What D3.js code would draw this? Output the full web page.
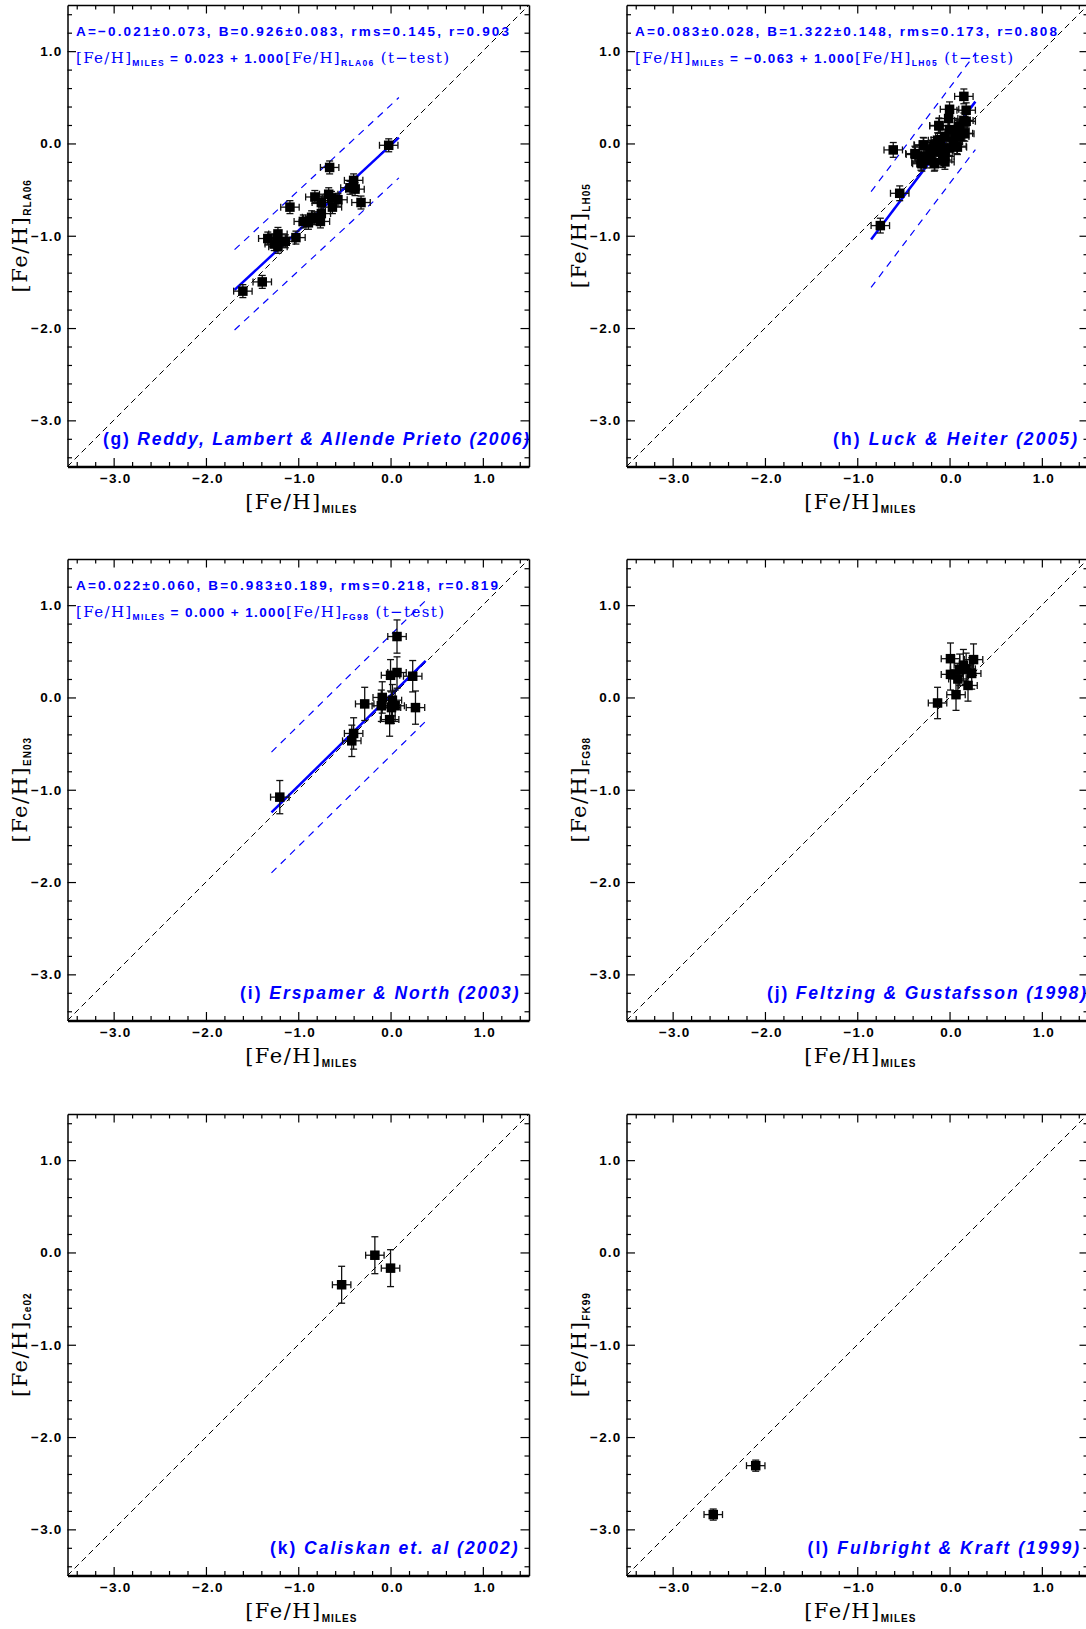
<!DOCTYPE html>
<html>
<head>
<meta charset="utf-8">
<script src="https://cdn.jsdelivr.net/npm/d3@7/dist/d3.min.js"></script>
<style>
  body { margin: 0; background: #fff; }
  svg { display: block; }
  .tick text { font-family: "Liberation Sans", Arial, sans-serif; font-weight: bold; font-size: 13.5px; letter-spacing: 1.2px; fill: #000; }
  .serif { font-family: "DejaVu Serif", serif; }
  .sans { font-family: "Liberation Sans", Arial, sans-serif; font-weight: bold; }
  .sub { font-family: "Liberation Sans", Arial, sans-serif; font-weight: bold; }
  .blue { fill: #0000ff; }
</style>
</head>
<body>
<svg id="chart" width="1086" height="1629"></svg>
<script>
// ---- data ----
const xTicks = [-3, -2, -1, 0, 1];
const yTicks = [-3, -2, -1, 0, 1];
const axisDomain = [-3.5, 1.5];

// (g) Reddy, Lambert & Allende Prieto (2006)
const gX = [-0.02, -0.66, -1.09, -0.32, -0.40, -0.44, -0.385, -0.82, -0.67, -0.64, -0.57, -0.75, -0.63, -0.75,
  -0.855, -0.945, -0.89, -0.76, -0.82, -1.025, -1.22, -1.33, -1.26, -1.22, -1.14, -1.23, -1.39, -1.60];
const gY = [-0.02, -0.26, -0.69, -0.64, -0.40, -0.48, -0.495, -0.58, -0.55, -0.59, -0.61, -0.64, -0.69, -0.76,
  -0.80, -0.845, -0.86, -0.845, -0.81, -1.02, -0.98, -1.03, -1.09, -1.12, -1.06, -1.03, -1.50, -1.60];
const gErr = [0.10, 0.07];
const gFit = [-0.021, 0.926, 0.145];   // A, B, rms
const gFitX = [-1.69, 0.09];

// (h) Luck & Heiter (2005)
const hX = [-0.75, -0.54, -0.61, 0.155, 0.00, 0.18, -0.01, -0.115, 0.18, -0.375, -0.285, -0.31, -0.25, -0.16,
  -0.16, -0.21, -0.10, -0.05, -0.10, 0.00, 0.04, 0.11, 0.15, 0.08, 0.00, -0.05, -0.13, -0.205, 0.095, -0.17,
  -0.07, 0.11, 0.06, -0.27, -0.075, -0.28, -0.37, -0.30, -0.165, -0.05, 0.085, 0.155, 0.165, -0.115];
const hY = [-0.89, -0.54, -0.07, 0.51, 0.37, 0.36, 0.27, 0.195, 0.24, -0.11, -0.015, -0.21, -0.185, -0.21,
  -0.085, -0.07, -0.03, -0.14, 0.04, -0.05, 0.02, 0.075, 0.11, -0.03, 0.15, 0.075, 0.035, -0.12, 0.185, -0.015,
  -0.085, 0.15, 0.095, -0.14, -0.18, -0.02, -0.12, -0.22, -0.22, -0.20, -0.04, 0.25, 0.105, 0.19];
const hErr = [0.10, 0.08];
const hFit = [0.083, 1.322, 0.173];
const hFitX = [-0.85, 0.28];

// (i) Erspamer & North (2003)
const iX = [-1.20, -0.40, -0.42, -0.28, 0.07, 0.07, 0.00, 0.24, -0.09, -0.10, 0.02, 0.05, -0.01, 0.27, 0.01];
const iY = [-1.08, -0.39, -0.47, -0.07, 0.66, 0.27, 0.24, 0.23, 0.00, -0.09, -0.03, -0.09, -0.24, -0.11, -0.11];
const iYErr = [0.18, 0.17, 0.17, 0.18, 0.18, 0.17, 0.17, 0.17, 0.17, 0.17, 0.17, 0.17, 0.18, 0.18, 0.17];
const iErr = [0.10, iYErr];
const iFit = [0.022, 0.983, 0.218];
const iFitX = [-1.29, 0.38];

// (j) Feltzing & Gustafsson (1998)
const jX = [-0.13, 0.01, 0.26, 0.01, 0.07, 0.20, 0.24, 0.09, 0.15, 0.18, 0.11];
const jY = [-0.06, 0.42, 0.41, 0.25, 0.03, 0.13, 0.26, 0.20, 0.35, 0.31, 0.30];
const jErr = [0.10, 0.17];

// (k) Caliskan et al. (2002)
const kX = [-0.53, -0.17, 0.00];
const kY = [-0.35, -0.03, -0.17];
const kErr = [0.10, 0.20];

// (l) Fulbright & Kraft (1999)
const lX = [-2.10, -2.56];
const lY = [-2.31, -2.84];
const lErr = [0.10, 0.06];

// ---- texts ----
const M = "\u2212";
const panels = [
  { col: 0, row: 0, xs: gX, ys: gY, err: gErr, sub: "RLA06", fit: gFit, fitX: gFitX,
    stats: `A=${M}0.021\u00b10.073, B=0.926\u00b10.083, rms=0.145, r=0.903`, statsW: 433,
    eqn: [" = 0.023 + 1.000", "RLA06"], eqnW: 373,
    label: ["(g) ", "Reddy, Lambert & Allende Prieto (2006)"], labelX: [35.5, 461.5] },
  { col: 1, row: 0, xs: hX, ys: hY, err: hErr, sub: "LH05", fit: hFit, fitX: hFitX,
    stats: "A=0.083\u00b10.028, B=1.322\u00b10.148, rms=0.173, r=0.808", statsW: 422,
    eqn: [` = ${M}0.063 + 1.000`, "LH05"], eqnW: 378,
    label: ["(h) ", "Luck & Heiter (2005)"], labelX: [206.5, 450.5] },
  { col: 0, row: 1, xs: iX, ys: iY, err: iErr, sub: "EN03", fit: iFit, fitX: iFitX,
    stats: "A=0.022\u00b10.060, B=0.983\u00b10.189, rms=0.218, r=0.819", statsW: 422,
    eqn: [" = 0.000 + 1.000", "FG98"], eqnW: 368,
    label: ["(i) ", "Erspamer & North (2003)"], labelX: [172.5, 451] },
  { col: 1, row: 1, xs: jX, ys: jY, err: jErr, sub: "FG98",
    label: ["(j) ", "Feltzing & Gustafsson (1998)"], labelX: [140.5, 459.5] },
  { col: 0, row: 2, xs: kX, ys: kY, err: kErr, sub: "Ce02",
    label: ["(k) ", "Caliskan et. al (2002)"], labelX: [202.5, 450] },
  { col: 1, row: 2, xs: lX, ys: lY, err: lErr, sub: "FK99",
    label: ["(l) ", "Fulbright & Kraft (1999)"], labelX: [181, 452.5] }
];

// ---- layout ----
const W = 461.5, H = 461.5;
const colLeft = [67.5, 626.5];
const rowTop = [5, 559, 1114];
const fmt = v => (v < 0 ? M : "") + Math.abs(v).toFixed(1);
const minors = d3.range(-34, 15, 2).map(v => v / 10).filter(v => v % 1 !== 0);
const SQ = 9.5;

const svg = d3.select("#chart");

panels.forEach(p => {
  const g = svg.append("g").attr("transform", `translate(${colLeft[p.col]},${rowTop[p.row]})`);
  const x = d3.scaleLinear().domain(axisDomain).range([0, W]);
  const y = d3.scaleLinear().domain(axisDomain).range([H, 0]);

  // one-to-one line
  g.append("path")
    .attr("d", d3.line().x(d => x(d)).y(d => y(d))(axisDomain))
    .attr("fill", "none").attr("stroke", "#000").attr("stroke-width", 1)
    .attr("stroke-dasharray", "6,4");

  // fit line and +-3 rms band
  if (p.fit) {
    const [A, B, rms] = p.fit;
    const fitLine = off => d3.line().x(d => x(d)).y(d => y(A + B * d + off))(p.fitX);
    [3 * rms, -3 * rms].forEach(off => {
      g.append("path").attr("d", fitLine(off))
        .attr("fill", "none").attr("stroke", "#0000ff").attr("stroke-width", 1.2)
        .attr("stroke-dasharray", "7,6");
    });
    g.append("path").attr("d", fitLine(0))
      .attr("fill", "none").attr("stroke", "#0000ff").attr("stroke-width", 2.5);
  }

  // points with error bars
  const pts = p.xs.map((v, i) => ({
    x: v, y: p.ys[i],
    ex: Array.isArray(p.err[0]) ? p.err[0][i] : p.err[0],
    ey: Array.isArray(p.err[1]) ? p.err[1][i] : p.err[1]
  }));
  const eb = g.append("g").attr("stroke", "#111").attr("stroke-width", 1.3);
  const cap = 3.5;
  pts.forEach(d => {
    const cx = x(d.x), cy = y(d.y);
    const x0 = x(d.x - d.ex), x1 = x(d.x + d.ex), y0 = y(d.y - d.ey), y1 = y(d.y + d.ey);
    eb.append("line").attr("x1", x0).attr("x2", x1).attr("y1", cy).attr("y2", cy);
    eb.append("line").attr("x1", x0).attr("x2", x0).attr("y1", cy - cap).attr("y2", cy + cap);
    eb.append("line").attr("x1", x1).attr("x2", x1).attr("y1", cy - cap).attr("y2", cy + cap);
    eb.append("line").attr("x1", cx).attr("x2", cx).attr("y1", y0).attr("y2", y1);
    eb.append("line").attr("x1", cx - cap).attr("x2", cx + cap).attr("y1", y0).attr("y2", y0);
    eb.append("line").attr("x1", cx - cap).attr("x2", cx + cap).attr("y1", y1).attr("y2", y1);
  });
  g.selectAll("rect.pt").data(pts).join("rect").attr("class", "pt")
    .attr("x", d => x(d.x) - SQ / 2).attr("y", d => y(d.y) - SQ / 2)
    .attr("width", SQ).attr("height", SQ).attr("fill", "#000");

  // axes: major + minor ticks on all four sides, pointing inward
  const axes = [
    { ax: d3.axisBottom, sc: x, tv: xTicks, tr: `translate(0,${H})`, lab: true, w: 2.5 },
    { ax: d3.axisTop, sc: x, tv: xTicks, tr: "translate(0,0)", lab: false, w: 1.5 },
    { ax: d3.axisLeft, sc: y, tv: yTicks, tr: "translate(0,0)", lab: true, w: 1.5 },
    { ax: d3.axisRight, sc: y, tv: yTicks, tr: `translate(${W},0)`, lab: false, w: 1.5 }
  ];
  axes.forEach(a => {
    const major = a.ax(a.sc).tickValues(a.tv).tickSize(-8.5).tickSizeOuter(0)
      .tickPadding(a.ax === d3.axisBottom ? 7 : 5)
      .tickFormat(a.lab ? fmt : "");
    const ag = g.append("g").attr("transform", a.tr).call(major);
    ag.select(".domain").attr("stroke-width", a.w);
    ag.selectAll(".tick line").attr("stroke-width", 1.2);
    if (a.ax === d3.axisBottom) ag.selectAll(".tick text").attr("dx", 1.5);
    const mg = g.append("g").attr("transform", a.tr)
      .call(a.ax(a.sc).tickValues(minors).tickSize(-4.5).tickSizeOuter(0).tickFormat(""));
    mg.select(".domain").remove();
    mg.selectAll(".tick line").attr("stroke-width", 1.2);
  });

  // axis titles
  const xt = g.append("text").attr("x", W / 2 + 3).attr("y", H + 42.5)
    .attr("text-anchor", "middle").attr("fill", "#000");
  xt.append("tspan").attr("class", "serif").attr("font-size", 21)
    .attr("letter-spacing", 1.5).text("[Fe/H]");
  xt.append("tspan").attr("class", "sub").attr("font-size", 10).attr("letter-spacing", 1)
    .attr("dy", 4).text("MILES");

  const yt = g.append("text").attr("transform", `translate(-41,${H / 2}) rotate(-90)`)
    .attr("text-anchor", "middle").attr("fill", "#000");
  yt.append("tspan").attr("class", "serif").attr("font-size", 21)
    .attr("letter-spacing", 1.5).text("[Fe/H]");
  yt.append("tspan").attr("class", "sub").attr("font-size", 10).attr("letter-spacing", 1)
    .attr("dy", 4).text(p.sub);

  // fit annotation
  if (p.stats) {
    g.append("text").attr("class", "sans blue").attr("x", 8.5).attr("y", 31)
      .attr("font-size", 13.5).attr("textLength", p.statsW).attr("lengthAdjust", "spacing")
      .text(p.stats);
    const eq = g.append("text").attr("class", "blue").attr("x", 8.5).attr("y", 58)
      .attr("textLength", p.eqnW).attr("lengthAdjust", "spacing");
    eq.append("tspan").attr("class", "serif").attr("font-size", 15).text("[Fe/H]");
    eq.append("tspan").attr("class", "sub").attr("font-size", 8.5).attr("dy", 3).text("MILES");
    eq.append("tspan").attr("class", "sans").attr("font-size", 13.5).attr("dy", -3).text(p.eqn[0]);
    eq.append("tspan").attr("class", "serif").attr("font-size", 15).text("[Fe/H]");
    eq.append("tspan").attr("class", "sub").attr("font-size", 8.5).attr("dy", 3).text(p.eqn[1]);
    eq.append("tspan").attr("class", "serif").attr("font-size", 15)
      .attr("dy", -3).text(` (t${M}test)`);
  }

  // panel label
  const lt = g.append("text").attr("class", "sans blue").attr("x", p.labelX[0]).attr("y", 439.5)
    .attr("font-size", 17.5).attr("textLength", p.labelX[1] - p.labelX[0]).attr("lengthAdjust", "spacing");
  lt.append("tspan").text(p.label[0]);
  lt.append("tspan").attr("font-style", "italic").text(p.label[1]);
});
</script>
</body>
</html>
